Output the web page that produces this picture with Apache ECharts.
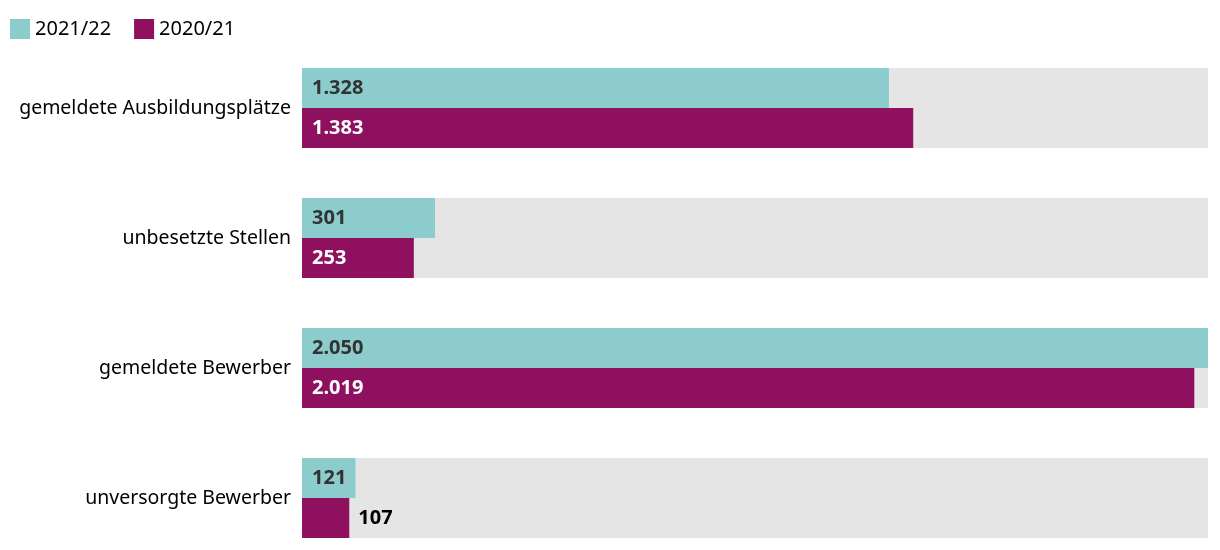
<!DOCTYPE html>
<html>
<head>
<meta charset="utf-8">
<script src="https://cdn.jsdelivr.net/npm/echarts@6/dist/echarts.min.js"></script>
<style>
    html, body { margin: 0; padding: 0; background: #fff; }
    #chart { width: 1220px; height: 550px; }
</style>
</head>
<body>
<div id="chart"></div>
<script>
    // Kategorien von oben nach unten
    const categories = ['gemeldete Ausbildungsplätze', 'unbesetzte Stellen', 'gemeldete Bewerber', 'unversorgte Bewerber'];
    const values2122 = [1328, 301, 2050, 121];
    const values2021 = [1383, 253, 2019, 107];
    const xMax = 2050;

    const fontFamily = '"Noto Sans", "Open Sans", sans-serif';

    function fmt(v) {
        return String(v).replace(/\B(?=(\d{3})+(?!\d))/g, '.');
    }

    // kurze Balken: Beschriftung rechts neben dem Balken
    function withLabels(values, insideColor) {
        return values.map(function (v) {
            if (v < 115) {
                return { value: v, label: { position: 'right', color: '#000', distance: 9 } };
            }
            return { value: v, label: { color: insideColor } };
        });
    }

    const chart = echarts.init(document.getElementById('chart'));
    chart.setOption({
        animation: false,
        legend: {
            left: 5,
            top: 14,
            itemWidth: 20,
            itemHeight: 20,
            itemGap: 23,
            icon: 'rect',
            textStyle: { fontFamily: fontFamily, fontSize: 20, color: '#000' },
            data: ['2021/22', '2020/21']
        },
        grid: {
            left: 302,
            right: 12,
            top: 43,
            height: 520,
            outerBoundsMode: 'none'
        },
        xAxis: {
            type: 'value',
            min: 0,
            max: xMax,
            show: false
        },
        yAxis: {
            type: 'category',
            data: categories,
            inverse: true,
            axisLine: { show: false },
            axisTick: { show: false },
            axisLabel: {
                margin: 11,
                fontFamily: fontFamily,
                fontSize: 19.5,
                color: '#000'
            }
        },
        series: [
            {
                name: '2021/22',
                type: 'bar',
                barWidth: 40,
                barGap: '0%',
                itemStyle: { color: '#8ccccc' },
                showBackground: true,
                backgroundStyle: { color: '#e5e5e5' },
                label: {
                    show: true,
                    position: 'insideLeft',
                    distance: 10,
                    fontFamily: fontFamily,
                    fontSize: 20,
                    fontWeight: 'bold',
                    formatter: function (p) { return fmt(p.value); }
                },
                data: withLabels(values2122, '#333')
            },
            {
                name: '2020/21',
                type: 'bar',
                barWidth: 40,
                barGap: '0%',
                itemStyle: { color: '#8e105e' },
                showBackground: true,
                backgroundStyle: { color: '#e5e5e5' },
                label: {
                    show: true,
                    position: 'insideLeft',
                    distance: 10,
                    fontFamily: fontFamily,
                    fontSize: 20,
                    fontWeight: 'bold',
                    formatter: function (p) { return fmt(p.value); }
                },
                data: withLabels(values2021, '#fff')
            }
        ]
    });
</script>
</body>
</html>
